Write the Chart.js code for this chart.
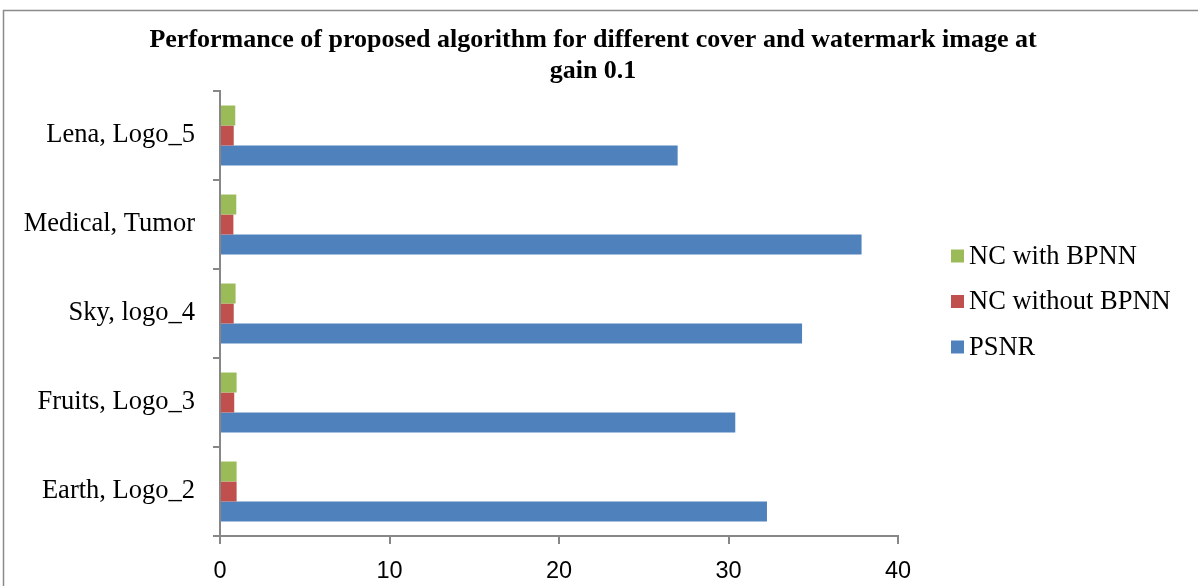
<!DOCTYPE html>
<html>
<head>
<meta charset="utf-8">
<script src="https://cdn.jsdelivr.net/npm/chart.js@4.4.1/dist/chart.umd.min.js"></script>
<style>
  html, body { margin: 0; padding: 0; background: #ffffff; }
  #wrap { width: 1198px; height: 586px; position: relative; }
</style>
</head>
<body>
<div id="wrap"><canvas id="chart" width="1198" height="586"></canvas></div>
<script>
// Categories, top to bottom
const categories = ['Lena, Logo_5', 'Medical, Tumor', 'Sky, logo_4', 'Fruits, Logo_3', 'Earth, Logo_2'];

// Series values
const ncWithBPNN    = [0.90, 0.96, 0.92, 0.98, 0.98];
const ncWithoutBPNN = [0.81, 0.79, 0.81, 0.84, 0.98];
const psnr          = [27.0, 37.85, 34.34, 30.4, 32.27];

const seriesNames = ['NC with BPNN', 'NC without BPNN', 'PSNR'];
const seriesColors = ['#9BBB59', '#C0504D', '#4F81BD'];

const titleLines = ['Performance of proposed algorithm for different cover and watermark image at', 'gain 0.1'];

const xTicks = [0, 10, 20, 30, 40];

const AXIS_COLOR = '#878787';
const SERIF = '"Liberation Serif", "Times New Roman", serif';
const SANS = '"Liberation Sans", Arial, sans-serif';

// Frame, title and legend drawn on the canvas
const decorPlugin = {
  id: 'decor',
  afterDraw(chart) {
    const ctx = chart.ctx;
    ctx.save();
    // outer frame
    ctx.strokeStyle = '#8a8a8a';
    ctx.lineWidth = 1.5;
    ctx.strokeRect(3.5, 10.5, 1300, 700);

    // title
    ctx.fillStyle = '#000000';
    ctx.font = 'bold 26px ' + SERIF;
    ctx.textAlign = 'center';
    ctx.textBaseline = 'alphabetic';
    titleLines.forEach((line, i) => {
      ctx.fillText(line, 593, 47 + i * 31);
    });

    // legend
    ctx.font = '26.5px ' + SERIF;
    ctx.textAlign = 'left';
    ctx.textBaseline = 'middle';
    const ds = chart.data.datasets;
    ds.forEach((d, i) => {
      const cy = 256 + i * 45.5;
      ctx.fillStyle = d.backgroundColor;
      ctx.fillRect(951, cy - 6.5, 13, 13);
      ctx.fillStyle = '#000000';
      ctx.fillText(d.label, 969, cy + 1);
    });
    ctx.restore();
  }
};

new Chart(document.getElementById('chart'), {
  type: 'bar',
  data: {
    labels: categories,
    datasets: [
      { label: seriesNames[0], data: ncWithBPNN, backgroundColor: seriesColors[0] },
      { label: seriesNames[1], data: ncWithoutBPNN, backgroundColor: seriesColors[1] },
      { label: seriesNames[2], data: psnr, backgroundColor: seriesColors[2] }
    ]
  },
  options: {
    indexAxis: 'y',
    responsive: false,
    animation: false,
    events: [],
    layout: { padding: { top: 91, right: 300, left: 0, bottom: 0 } },
    datasets: {
      bar: { categoryPercentage: 0.674, barPercentage: 1.0, borderWidth: 0 }
    },
    plugins: {
      legend: { display: false },
      title: { display: false },
      tooltip: { enabled: false }
    },
    scales: {
      x: {
        type: 'linear',
        min: 0,
        max: 40,
        afterFit(scale) { scale.height = 50; },
        afterBuildTicks(scale) { scale.ticks = xTicks.map(v => ({ value: v })); },
        grid: {
          drawOnChartArea: false,
          drawTicks: true,
          tickLength: 8,
          color: AXIS_COLOR,
          lineWidth: 2
        },
        border: { display: true, color: AXIS_COLOR, width: 2 },
        ticks: {
          color: '#000000',
          font: { family: SANS, size: 23.5 },
          padding: 13,
          maxRotation: 0
        }
      },
      y: {
        afterFit(scale) { scale.width = 220; },
        grid: {
          drawOnChartArea: false,
          drawTicks: true,
          tickLength: 7,
          color: AXIS_COLOR,
          lineWidth: 2
        },
        border: { display: true, color: AXIS_COLOR, width: 2 },
        ticks: {
          color: '#000000',
          font: { family: SERIF, size: 26.5 },
          padding: 18
        }
      }
    }
  },
  plugins: [decorPlugin]
});
</script>
</body>
</html>
